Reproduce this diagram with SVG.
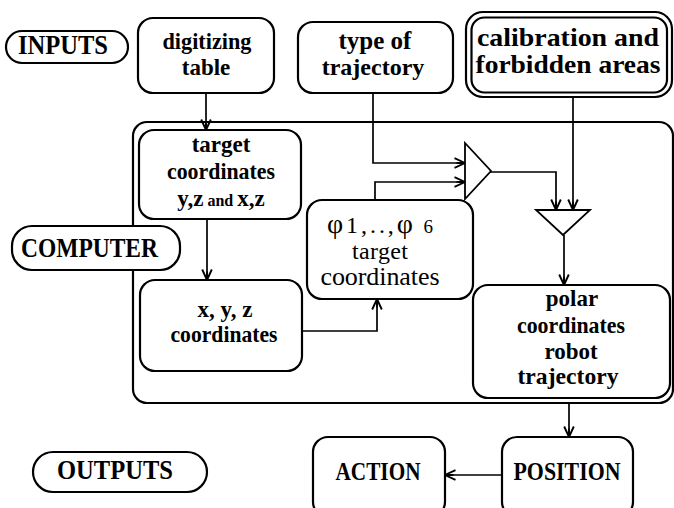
<svg xmlns="http://www.w3.org/2000/svg" width="674" height="508" viewBox="0 0 674 508">
<defs>
<marker id="arr" markerUnits="userSpaceOnUse" viewBox="0 0 12 12" refX="11.5" refY="6" markerWidth="12" markerHeight="12" orient="auto">
<path d="M1,1.2 L11.5,6 L1,10.8 M3,6 L11.5,6" fill="none" stroke="#000" stroke-width="1.9"/>
</marker>
<style>
.box{fill:#fff;stroke:#000;stroke-width:2.2}
.pill{fill:#fff;stroke:#000;stroke-width:2.2}
.ln{fill:none;stroke:#000;stroke-width:1.7}
.tri{fill:#fff;stroke:#000;stroke-width:1.8}
.b{font-family:"Liberation Serif","Times New Roman",serif;font-weight:bold;font-size:23px;fill:#000}
.r{font-family:"Liberation Serif","Times New Roman",serif;font-size:25px;fill:#000}
.lab{font-family:"Liberation Serif","Times New Roman",serif;font-weight:bold;font-size:27px;fill:#000}
.c{text-anchor:middle}
</style>
</defs>
<rect width="674" height="508" fill="#fff"/>

<g id="computer-frame">
<rect class="box" x="133" y="122" width="540" height="281" rx="14"/>
</g>

<g id="connectors">
<path class="ln" d="M206,93 V130" marker-end="url(#arr)"/>
<path class="ln" d="M373,93 V163 H465" marker-end="url(#arr)"/>
<path class="ln" d="M375,200 V182 H465" marker-end="url(#arr)"/>
<path class="ln" d="M207,219 V280" marker-end="url(#arr)"/>
<path class="ln" d="M302,331 H377 V299" marker-end="url(#arr)"/>
<path class="ln" d="M490,172 H556 V210" marker-end="url(#arr)"/>
<path class="ln" d="M573,97 V210" marker-end="url(#arr)"/>
<path class="ln" d="M564,235 V285" marker-end="url(#arr)"/>
<path class="ln" d="M569,403 V437" marker-end="url(#arr)"/>
<path class="ln" d="M502,475 H445" marker-end="url(#arr)"/>
</g>

<g id="inputs-label">
<rect class="pill" x="6" y="31" width="122" height="32" rx="16"/>
<text class="lab" x="18" y="54" textLength="90" lengthAdjust="spacingAndGlyphs">INPUTS</text>
</g>

<g id="digitizing-table">
<rect class="box" x="138" y="18" width="136" height="75" rx="15"/>
<text class="b c" x="207" y="49" textLength="89" lengthAdjust="spacingAndGlyphs">digitizing</text>
<text class="b c" x="206" y="75">table</text>
</g>

<g id="type-of-trajectory">
<rect class="box" x="298" y="22" width="155" height="71" rx="15"/>
<text class="b c" x="375" y="49" style="font-size:25px">type of</text>
<text class="b c" x="373" y="75" style="font-size:24px">trajectory</text>
</g>

<g id="calibration">
<rect class="box" x="466" y="12" width="206" height="85" rx="17"/>
<rect class="box" x="471.5" y="17.5" width="195.5" height="75" rx="13" stroke-width="1.6"/>
<text class="b c" x="568" y="46" style="font-size:25px" textLength="182" lengthAdjust="spacingAndGlyphs">calibration and</text>
<text class="b c" x="568" y="73" style="font-size:25px" textLength="185" lengthAdjust="spacingAndGlyphs">forbidden areas</text>
</g>

<g id="target-coordinates">
<rect class="box" x="139" y="130" width="162" height="89" rx="15"/>
<text class="b c" x="221" y="152">target</text>
<text class="b c" x="221" y="179" textLength="108" lengthAdjust="spacingAndGlyphs">coordinates</text>
<text class="b c" x="221" y="206">y,z<tspan style="font-size:16px"> and </tspan>x,z</text>
</g>

<g id="computer-label">
<rect class="pill" x="12" y="226" width="168" height="44" rx="20"/>
<text class="lab" x="21" y="257" textLength="137" lengthAdjust="spacingAndGlyphs">COMPUTER</text>
</g>

<g id="xyz-coordinates">
<rect class="box" x="140" y="280" width="162" height="91" rx="15"/>
<text class="b c" x="225" y="317">x, y, z</text>
<text class="b c" x="224" y="342" textLength="107" lengthAdjust="spacingAndGlyphs">coordinates</text>
</g>

<g id="phi-target-coordinates">
<rect class="box" x="307" y="200" width="166" height="99" rx="15"/>
<text class="r" x="327" y="233" textLength="106"><tspan style="font-size:28px">φ</tspan><tspan style="font-size:24px">1,..,</tspan><tspan style="font-size:28px">φ</tspan><tspan style="font-size:19px"> 6</tspan></text>
<text class="r c" x="380" y="259" textLength="56" style="font-size:24px">target</text>
<text class="r c" x="380" y="285" textLength="119" style="font-size:26px">coordinates</text>
</g>

<g id="merge-1">
<polygon class="tri" points="465,143 491,171 465,199"/>
</g>

<g id="merge-2">
<polygon class="tri" points="536,210 590,210 563,235"/>
</g>

<g id="polar-coordinates">
<rect class="box" x="473" y="285" width="197" height="113" rx="15"/>
<text class="b c" x="572" y="306">polar</text>
<text class="b c" x="571" y="333" textLength="108" lengthAdjust="spacingAndGlyphs">coordinates</text>
<text class="b c" x="571" y="359">robot</text>
<text class="b c" x="568" y="384" textLength="101" lengthAdjust="spacingAndGlyphs">trajectory</text>
</g>

<g id="outputs-label">
<rect class="pill" x="33" y="452" width="174" height="40" rx="20"/>
<text class="lab" x="57" y="479" textLength="116" lengthAdjust="spacingAndGlyphs">OUTPUTS</text>
</g>

<g id="action">
<rect class="box" x="313" y="437" width="132" height="80" rx="15"/>
<text class="lab c" x="378" y="480" textLength="85" lengthAdjust="spacingAndGlyphs" style="font-size:25px">ACTION</text>
</g>

<g id="position">
<rect class="box" x="502" y="437" width="131" height="80" rx="15"/>
<text class="lab c" x="567" y="480" textLength="107" lengthAdjust="spacingAndGlyphs" style="font-size:25px">POSITION</text>
</g>
</svg>
